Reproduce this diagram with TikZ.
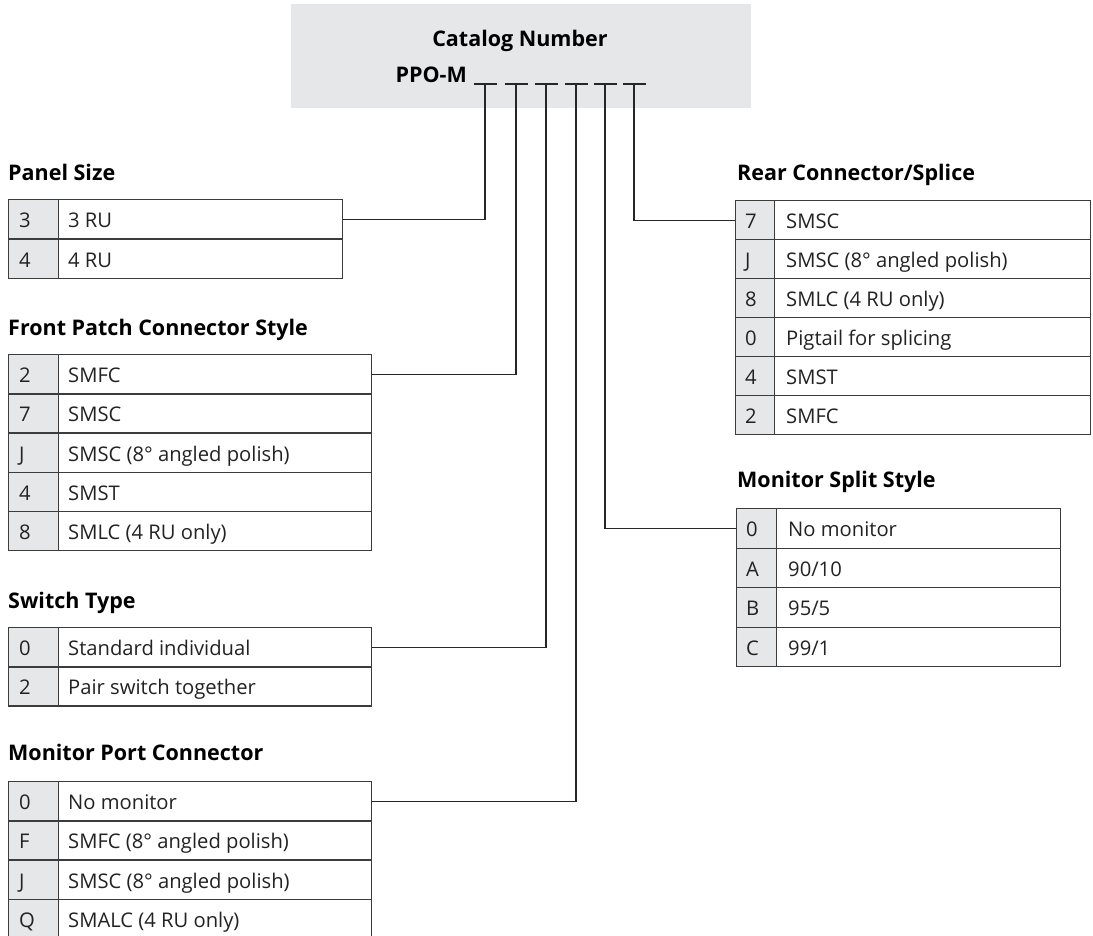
\documentclass[tikz,border=0pt]{standalone}
\usepackage{fontspec}
\setmainfont{Open Sans}
\definecolor{boxgray}{HTML}{E6E7E8}
\definecolor{edgecol}{HTML}{3C3C3C}
\definecolor{txtcol}{HTML}{222222}
\tikzset{
 cell/.style={draw=edgecol, line width=1.4pt, rectangle, inner sep=0pt, anchor=north west},
 keycell/.style={cell, fill=boxgray},
 lbl/.style={anchor=base west, inner sep=0pt, text=txtcol, font=\fontsize{20.2}{20.2}\selectfont},
 ttl/.style={anchor=base west, inner sep=0pt, font=\bfseries\fontsize{21.5}{21.5}\selectfont},
 wire/.style={line width=1.3pt, draw=black!85},
}
\begin{document}
\begin{tikzpicture}[x=1pt,y=-1pt]
\useasboundingbox (0,0) rectangle (1093,936);
% header
\node[fill=boxgray, minimum width=460pt, minimum height=104pt, anchor=north west, inner sep=0pt] (hdr) at (291,4) {};
\node[anchor=base, inner sep=0pt, font=\bfseries\fontsize{21.5}{21.5}\selectfont] (cat) at (520,47) {Catalog Number};
\node[anchor=base east, inner sep=0pt, font=\bfseries\fontsize{21.5}{21.5}\selectfont] (ppo) at (467,83) {PPO-M};
% slots
\coordinate (s1) at (485,84);
\coordinate (s2) at (516,84);
\coordinate (s3) at (546,84);
\coordinate (s4) at (576,84);
\coordinate (s5) at (605,84);
\coordinate (s6) at (634,84);
\foreach \s in {s1,s2,s3,s4,s5,s6}{
  \draw[wire] ([xshift=-11.5pt]\s) -- ([xshift=11.5pt]\s);
}
% titles
\node[ttl] (t-ps) at (8,181) {Panel Size};
\node[ttl] (t-fp) at (8,335) {Front Patch Connector Style};
\node[ttl] (t-st) at (8,608) {Switch Type};
\node[ttl] (t-mp) at (8,760) {Monitor Port Connector};
\node[ttl] (t-rc) at (737,181) {Rear Connector/Splice};
\node[ttl] (t-ms) at (737,487) {Monitor Split Style};
% tables
\foreach \k/\v [count=\i from 0] in {3/{3 RU},4/{4 RU}}{
  \node[keycell, minimum width=50pt, minimum height=39.5pt] (ps-k\i) at (8,{199+\i*39.5}) {};
  \node[cell, minimum width=284pt, minimum height=39.5pt] (ps-v\i) at (58,{199+\i*39.5}) {};
  \node[lbl] at ([shift={(11,-12)}]ps-k\i.south west) {\k};
  \node[lbl] at ([shift={(10,-12)}]ps-v\i.south west) {\v};
}
\foreach \k/\v [count=\i from 0] in {2/{SMFC},7/{SMSC},J/{SMSC (8° angled polish)},4/{SMST},8/{SMLC (4 RU only)}}{
  \node[keycell, minimum width=50pt, minimum height=39.2pt] (fp-k\i) at (8,{354+\i*39.2}) {};
  \node[cell, minimum width=313pt, minimum height=39.2pt] (fp-v\i) at (58,{354+\i*39.2}) {};
  \node[lbl] at ([shift={(11,-12)}]fp-k\i.south west) {\k};
  \node[lbl] at ([shift={(10,-12)}]fp-v\i.south west) {\v};
}
\foreach \k/\v [count=\i from 0] in {0/{Standard individual},2/{Pair switch together}}{
  \node[keycell, minimum width=50pt, minimum height=39.2pt] (st-k\i) at (8,{627+\i*39.2}) {};
  \node[cell, minimum width=313pt, minimum height=39.2pt] (st-v\i) at (58,{627+\i*39.2}) {};
  \node[lbl] at ([shift={(11,-12)}]st-k\i.south west) {\k};
  \node[lbl] at ([shift={(10,-12)}]st-v\i.south west) {\v};
}
\foreach \k/\v [count=\i from 0] in {0/{No monitor},F/{SMFC (8° angled polish)},J/{SMSC (8° angled polish)},Q/{SMALC (4 RU only)}}{
  \node[keycell, minimum width=50pt, minimum height=39.2pt] (mp-k\i) at (8,{781+\i*39.2}) {};
  \node[cell, minimum width=313pt, minimum height=39.2pt] (mp-v\i) at (58,{781+\i*39.2}) {};
  \node[lbl] at ([shift={(11,-12)}]mp-k\i.south west) {\k};
  \node[lbl] at ([shift={(10,-12)}]mp-v\i.south west) {\v};
}
\foreach \k/\v [count=\i from 0] in {7/{SMSC},J/{SMSC (8° angled polish)},8/{SMLC (4 RU only)},0/{Pigtail for splicing},4/{SMST},2/{SMFC}}{
  \node[keycell, minimum width=39pt, minimum height=39pt] (rc-k\i) at (735,{200+\i*39}) {};
  \node[cell, minimum width=316pt, minimum height=39pt] (rc-v\i) at (774,{200+\i*39}) {};
  \node[lbl] at ([shift={(10,-11.5)}]rc-k\i.south west) {\k};
  \node[lbl] at ([shift={(12,-11.5)}]rc-v\i.south west) {\v};
}
\foreach \k/\v [count=\i from 0] in {0/{No monitor},A/{90/10},B/{95/5},C/{99/1}}{
  \node[keycell, minimum width=40pt, minimum height=39.5pt] (ms-k\i) at (736,{508+\i*39.5}) {};
  \node[cell, minimum width=284pt, minimum height=39.5pt] (ms-v\i) at (776,{508+\i*39.5}) {};
  \node[lbl] at ([shift={(10,-12)}]ms-k\i.south west) {\k};
  \node[lbl] at ([shift={(12,-12)}]ms-v\i.south west) {\v};
}
% connectors
\draw[wire] (s1) |- (ps-v0.east);
\draw[wire] (s2) |- (fp-v0.east);
\draw[wire] (s3) |- (st-v0.east);
\draw[wire] (s4) |- (mp-v0.east);
\draw[wire] (s5) |- (ms-k0.west);
\draw[wire] (s6) |- (rc-k0.west);
\end{tikzpicture}
\end{document}
